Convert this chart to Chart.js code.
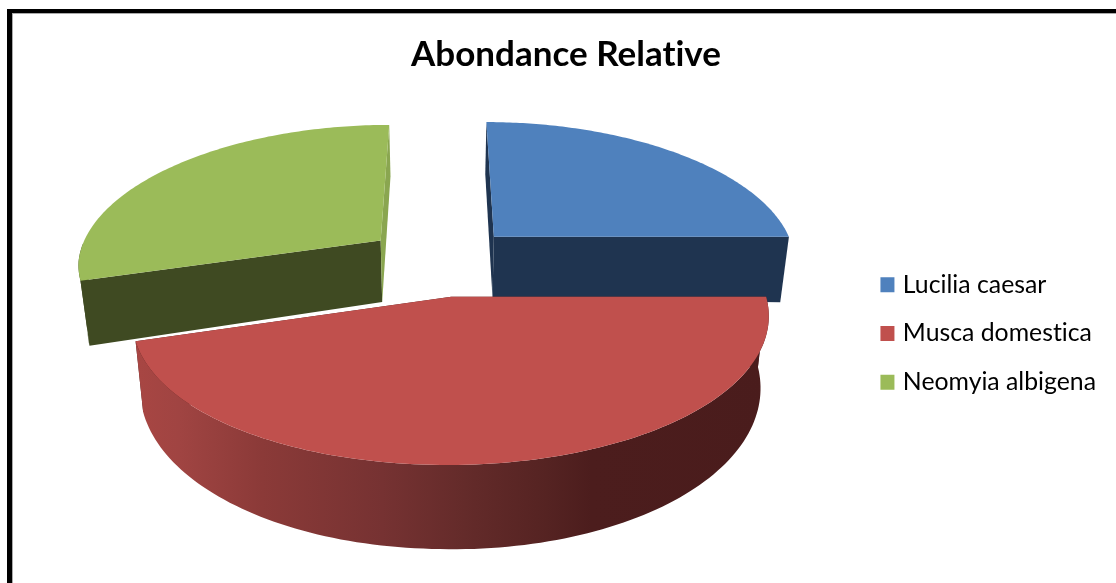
<!DOCTYPE html>
<html>
<head>
<meta charset="utf-8">
<title>Abondance Relative</title>
<script src="https://cdn.jsdelivr.net/npm/chart.js@4"></script>
<style>
  html, body { margin: 0; height: 100%; overflow: hidden; background: #fff; }
  #frame {
    position: absolute; left: 7px; top: 9px; width: 1200px; height: 700px;
    border-left: 5px solid #000; border-top: 4px solid #000;
    box-shadow: inset 1px 1px 0 #aaa;
  }
  #pie { position: absolute; left: 0; top: 0; }
</style>
</head>
<body>
<div id="frame"></div>
<canvas id="pie" width="1116" height="583"></canvas>
<script>
const species = ["Lucilia caesar", "Musca domestica", "Neomyia albigena"];
const abundance = [25.0, 45.3, 29.7];

const topColors = ["#4f81bd", "#c0504d", "#9bbb59"];
const startCutColors = ["#1f3450", "#4c1d1c", "#3f4a22"];
const endCutColors = ["#1f3450", "#4c1d1c", "#8aa650"];
// outer wall shading, left to right
const wallShades = [
  [[0, "#1f3450"]],
  [[0, "#a84643"], [0.07, "#a04442"], [0.2, "#8b3a38"], [0.39, "#763232"], [0.52, "#642b2a"], [0.65, "#552322"], [0.72, "#4c1d1d"], [1, "#4a1c1c"]],
  [[0, "#3f4a22"]],
];

// tilted-disc projection, the far half foreshortens faster than the near half
const pieX = 441, pieY = 261, rimRadius = 304;
const squash = 0.455, frontLean = 0.02;
const wallDepth = 63.2, perspDepth = 1530, bottomShrink = 0.975, wallTilt = 0.012;

function project(u, v, bottom) {
  const perspX = v > 0 ? 2200 : 1800;
  const perspY = v > 0 ? 2500 : 2060;
  const shrink = bottom ? bottomShrink : 1;
  const drop = bottom ? wallDepth * perspDepth / (perspDepth - v) + wallTilt * Math.max(u, 0) : 0;
  return {
    x: pieX + u * shrink * perspX / (perspX - v) - frontLean * Math.max(v, 0),
    y: pieY + squash * v * perspY / (perspY - v) + drop,
  };
}

function fillPath(ctx, points, fill) {
  ctx.beginPath();
  points.forEach((p, i) => (i ? ctx.lineTo(p.x, p.y) : ctx.moveTo(p.x, p.y)));
  ctx.closePath();
  ctx.fillStyle = fill;
  ctx.fill();
}

function drawSlice(ctx, arc, i) {
  const start = arc.startAngle, end = arc.endAngle;
  const mid = (start + end) / 2;
  const cu = Math.cos(mid) * arc.options.offset;
  const cv = Math.sin(mid) * arc.options.offset;
  const rim = (a, bottom) => project(cu + Math.cos(a) * rimRadius, cv + Math.sin(a) * rimRadius, bottom);

  const steps = 120;
  const rimTop = [], frontTop = [], frontBottom = [];
  for (let s = 0; s <= steps; s++) {
    const a = start + (end - start) * s / steps;
    rimTop.push(rim(a, false));
    if (Math.sin(a) >= 0) {
      frontTop.push(rim(a, false));
      frontBottom.push(rim(a, true));
    }
  }
  const apexTop = project(cu, cv, false);
  const apexBottom = project(cu, cv, true);

  // the two cut faces
  fillPath(ctx, [apexTop, rim(start, false), rim(start, true), apexBottom], startCutColors[i]);
  fillPath(ctx, [apexTop, rim(end, false), rim(end, true), apexBottom], endCutColors[i]);

  // outer wall, only the part facing the viewer
  if (frontTop.length > 1) {
    const xs = frontTop.map(p => p.x);
    const wall = ctx.createLinearGradient(Math.min(...xs), 0, Math.max(...xs), 0);
    wallShades[i].forEach(([at, color]) => wall.addColorStop(at, color));
    fillPath(ctx, frontTop.concat(frontBottom.reverse()), wall);
  }

  // top face
  fillPath(ctx, [apexTop].concat(rimTop), topColors[i]);
}

// replaces the flat arcs with extruded ones, back slices first
const extrudedPie = {
  id: "extrudedPie",
  beforeDraw(chart) {
    // plain glyphs, no "ti" ligature
    chart.ctx.textRendering = "optimizeSpeed";
  },
  beforeDatasetDraw(chart, args) {
    const ctx = chart.ctx;
    const arcs = chart.getDatasetMeta(args.index).data;
    ctx.save();
    [0, 2, 1].forEach(i => drawSlice(ctx, arcs[i], i));
    ctx.restore();
    return false;
  },
};

new Chart(document.getElementById("pie"), {
  type: "pie",
  data: {
    labels: species,
    datasets: [
      {
        data: abundance,
        backgroundColor: topColors,
        // the thick border fattens the legend swatch and keeps its text close
        borderColor: topColors,
        borderWidth: 8,
        offset: 77,
      },
    ],
  },
  options: {
    responsive: false,
    animation: false,
    events: [],
    // negative bottom pushes the vertically centred legend down
    layout: { padding: { left: 26, right: 10, top: 0, bottom: -84 } },
    plugins: {
      tooltip: { enabled: false },
      title: {
        display: true,
        text: "Abondance Relative",
        color: "#000",
        font: { family: "Lato", size: 35, weight: "bold" },
        padding: { top: 34, bottom: 20 },
      },
      legend: {
        position: "right",
        labels: {
          color: "#000",
          font: { family: "Lato", size: 24.8 },
          boxWidth: 6,
          boxHeight: 7,
          padding: 24,
        },
      },
    },
  },
  plugins: [extrudedPie],
});
</script>
</body>
</html>
